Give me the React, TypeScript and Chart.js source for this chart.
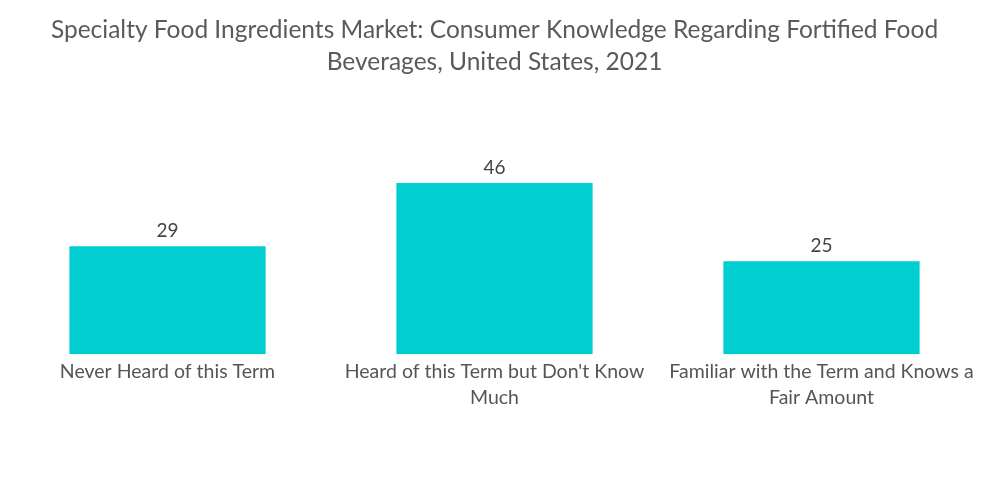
import React, { useEffect, useRef } from "react";
import { Chart, registerables } from "chart.js";

Chart.register(...registerables);

const titleLines = [
  "Specialty Food Ingredients Market: Consumer Knowledge Regarding Fortified Food",
  "Beverages, United States, 2021",
];
const categories: (string | string[])[] = [
  "Never Heard of this Term",
  ["Heard of this Term but Don't Know", "Much"],
  ["Familiar with the Term and Knows a", "Fair Amount"],
];
const values = [29, 46, 25];
const barColor = "#00CED1";

const valueLabels = {
  id: "valueLabels",
  afterDatasetsDraw(chart: any) {
    const ctx = chart.ctx;
    const meta = chart.getDatasetMeta(0);
    ctx.save();
    ctx.font = "19px Lato";
    ctx.fillStyle = "#444444";
    ctx.textAlign = "center";
    ctx.textBaseline = "bottom";
    meta.data.forEach((el: any, i: number) => {
      ctx.fillText(String(chart.data.datasets[0].data[i]), el.x, el.y - 6);
    });
    ctx.restore();
  },
};

export default function App() {
  const ref = useRef<HTMLCanvasElement | null>(null);
  useEffect(() => {
    if (!ref.current) return;
    const chart = new Chart(ref.current, {
      type: "bar",
      data: {
        labels: categories,
        datasets: [
          {
            data: values,
            backgroundColor: barColor,
            borderWidth: 0,
            categoryPercentage: 1,
            barPercentage: 0.6,
          },
        ],
      },
      options: {
        animation: false,
        responsive: true,
        maintainAspectRatio: false,
        layout: { padding: { left: 4, right: 15, top: 0, bottom: 96 } },
        plugins: {
          legend: { display: false },
          tooltip: { enabled: false },
          title: {
            display: true,
            text: titleLines,
            color: "#5a5a5a",
            font: { family: "Lato", size: 24.5, weight: "normal", lineHeight: 1.27 },
            padding: { top: 15, bottom: 91 },
          },
        },
        scales: {
          x: {
            grid: { display: false },
            border: { display: false },
            ticks: {
              color: "#555555",
              font: { family: "Lato", size: 19.5, lineHeight: 1.33 },
              padding: -3,
              maxRotation: 0,
              autoSkip: false,
            },
          },
          y: {
            display: false,
            min: 0,
            max: 50,
          },
        },
      },
      plugins: [valueLabels],
    });
    return () => chart.destroy();
  }, []);
  return (
    <div style={{ position: "fixed", left: 0, top: 0, width: 1000, height: 504, background: "#fff" }}>
      <canvas ref={ref} />
    </div>
  );
}
